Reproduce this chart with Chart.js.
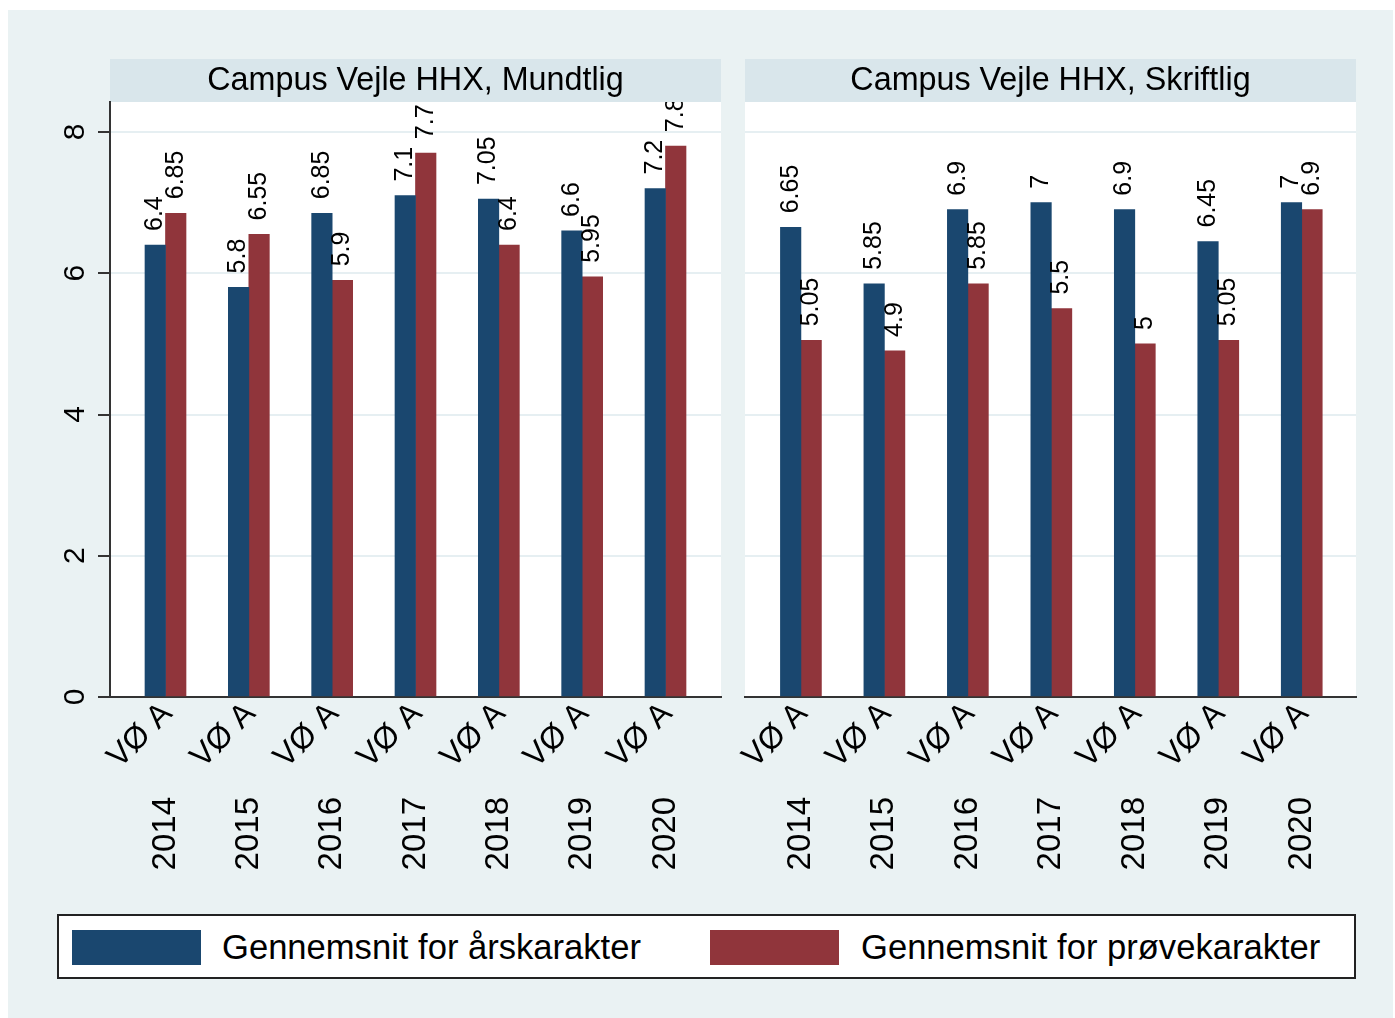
<!DOCTYPE html>
<html>
<head>
<meta charset="utf-8">
<script src="https://cdn.jsdelivr.net/npm/chart.js@4.4.1/dist/chart.umd.min.js"></script>
<style>
  body { margin: 0; width: 1395px; height: 1018px; background: #fff; position: relative; overflow: hidden;
         font-family: "Liberation Sans", Arial, sans-serif; }
  #bg { position: absolute; left: 8px; top: 10px; width: 1385px; height: 1008px; background: #eaf2f3; }
  canvas { position: absolute; left: 0; top: 0; pointer-events: none; }
  #legend { position: absolute; left: 57px; top: 914px; width: 1299px; height: 65px; box-sizing: border-box;
            border: 2px solid #222; background: #fff; }
  #legend .sw { position: absolute; top: 14px; width: 129px; height: 35px; }
  #legend .lbl { position: absolute; top: 0; height: 63px; line-height: 63px; font-size: 34.6px; color: #000; white-space: nowrap; }
</style>
</head>
<body>
<div id="bg"></div>
<canvas id="chartMundtlig" width="1395" height="1018"></canvas>
<canvas id="chartSkriftlig" width="1395" height="1018"></canvas>
<div id="legend">
  <span class="sw" style="left:13px;background:#1a476f"></span>
  <span class="lbl" id="lblAar" style="left:163px"></span>
  <span class="sw" style="left:651px;background:#90353b"></span>
  <span class="lbl" id="lblProeve" style="left:802px"></span>
</div>
<script>
const YEARS = ['2014', '2015', '2016', '2017', '2018', '2019', '2020'];
const GROUP_LABEL = 'VØ A';
const SERIES_NAMES = ['Gennemsnit for årskarakter', 'Gennemsnit for prøvekarakter'];

const MUNDTLIG_AAR = [6.4, 5.8, 6.85, 7.1, 7.05, 6.6, 7.2];
const MUNDTLIG_PROEVE = [6.85, 6.55, 5.9, 7.7, 6.4, 5.95, 7.8];
const SKRIFTLIG_AAR = [6.65, 5.85, 6.9, 7, 6.9, 6.45, 7];
const SKRIFTLIG_PROEVE = [5.05, 4.9, 5.85, 5.5, 5, 5.05, 6.9];

const Y_TICKS = [0, 2, 4, 6, 8];

const FONT = '"Liberation Sans", Arial, sans-serif';
const BLUE = '#1a476f';
const RED = '#90353b';

Chart.defaults.font.family = FONT;

const $ = (id) => document.getElementById(id);
$('lblAar').textContent = SERIES_NAMES[0];
$('lblProeve').textContent = SERIES_NAMES[1];

// header strip, white plot region and all the rotated Stata-style texts
const panelPlugin = {
  id: 'panel',
  beforeDraw(chart, args, opts) {
    const { ctx, chartArea: a } = chart;
    ctx.save();
    ctx.fillStyle = '#fff';
    ctx.fillRect(a.left, a.top, a.right - a.left, a.bottom - a.top);
    ctx.fillStyle = '#d9e6eb';
    ctx.fillRect(a.left, a.top - 43, a.right - a.left, 43);
    ctx.fillStyle = '#000';
    ctx.font = `32.3px ${FONT}`;
    ctx.textAlign = 'center';
    ctx.textBaseline = 'middle';
    ctx.fillText(opts.title, (a.left + a.right) / 2, a.top - 21);
    ctx.restore();
  },
  afterDatasetsDraw(chart, args, opts) {
    const { ctx, chartArea: a } = chart;

    // value labels above bars, clipped to the plot region
    ctx.save();
    ctx.beginPath();
    ctx.rect(a.left, a.top, a.right - a.left, a.bottom - a.top);
    ctx.clip();
    ctx.fillStyle = '#000';
    ctx.font = `25px ${FONT}`;
    ctx.textAlign = 'left';
    ctx.textBaseline = 'middle';
    chart.data.datasets.forEach((ds, di) => {
      chart.getDatasetMeta(di).data.forEach((el, i) => {
        ctx.save();
        ctx.translate(el.x, el.y - 14);
        ctx.rotate(-Math.PI / 2);
        ctx.fillText(String(ds.data[i].y), 0, 0);
        ctx.restore();
      });
    });
    ctx.restore();

    // category labels
    const xs = chart.scales.x;
    ctx.save();
    ctx.fillStyle = '#000';
    YEARS.forEach((year, i) => {
      const px = xs.getPixelForValue(i);
      ctx.save();
      ctx.font = `32px ${FONT}`;
      ctx.translate(px + 8, a.bottom + 18);
      ctx.rotate(-Math.PI / 4);
      ctx.textAlign = 'right';
      ctx.textBaseline = 'alphabetic';
      ctx.fillText(GROUP_LABEL, 0, 0);
      ctx.restore();

      ctx.save();
      ctx.font = `33px ${FONT}`;
      ctx.translate(px, a.bottom + 100);
      ctx.rotate(-Math.PI / 2);
      ctx.textAlign = 'right';
      ctx.textBaseline = 'middle';
      ctx.fillText(year, 0, 0);
      ctx.restore();
    });

    if (opts.yLabels) {
      const ys = chart.scales.y;
      ctx.font = `30px ${FONT}`;
      ctx.textAlign = 'center';
      ctx.textBaseline = 'middle';
      ys.ticks.forEach(t => {
        ctx.save();
        ctx.translate(76, ys.getPixelForValue(t.value));
        ctx.rotate(-Math.PI / 2);
        ctx.fillText(String(t.value), 0, 0);
        ctx.restore();
      });
    }
    ctx.restore();
  }
};

function makePanel(canvasId, title, aar, proeve, isLeft, xMin, xMax) {
  return new Chart($(canvasId), {
    type: 'bar',
    data: {
      datasets: [
        { label: SERIES_NAMES[0], data: aar.map((v, i) => ({ x: i, y: v })), backgroundColor: BLUE },
        { label: SERIES_NAMES[1], data: proeve.map((v, i) => ({ x: i, y: v })), backgroundColor: RED }
      ]
    },
    options: {
      responsive: false,
      animation: false,
      devicePixelRatio: 1,
      events: [],
      barThickness: 20.5,
      layout: {
        padding: isLeft
          ? { left: 98, right: 674, top: 102, bottom: 321 }
          : { left: 745, right: 39, top: 102, bottom: 321 }
      },
      scales: {
        x: {
          type: 'linear',
          offset: false,
          min: xMin,
          max: xMax,
          afterBuildTicks: (scale) => { scale.ticks = YEARS.map((y, i) => ({ value: i })); },
          ticks: { display: false },
          grid: { display: false, drawTicks: false },
          border: { display: true, color: '#333', width: 2 }
        },
        y: {
          min: 0,
          max: 8.425,
          afterBuildTicks: (scale) => { scale.ticks = Y_TICKS.map(v => ({ value: v })); },
          ticks: { display: false },
          grid: {
            color: (c) => (c.tick && c.tick.value === 0) ? 'rgba(0,0,0,0)' : '#e6eff2',
            lineWidth: 2,
            drawTicks: isLeft,
            tickLength: 12,
            tickColor: '#333',
            tickWidth: 2
          },
          border: { display: isLeft, color: '#333', width: 2 }
        }
      },
      plugins: {
        legend: { display: false },
        tooltip: { enabled: false },
        panel: { title, yLabels: isLeft }
      }
    },
    plugins: [panelPlugin]
  });
}

makePanel('chartMundtlig', 'Campus Vejle HHX, Mundtlig', MUNDTLIG_AAR, MUNDTLIG_PROEVE, true, -0.666, 6.666);
makePanel('chartSkriftlig', 'Campus Vejle HHX, Skriftlig', SKRIFTLIG_AAR, SKRIFTLIG_PROEVE, false, -0.67, 6.65);
</script>
</body>
</html>
